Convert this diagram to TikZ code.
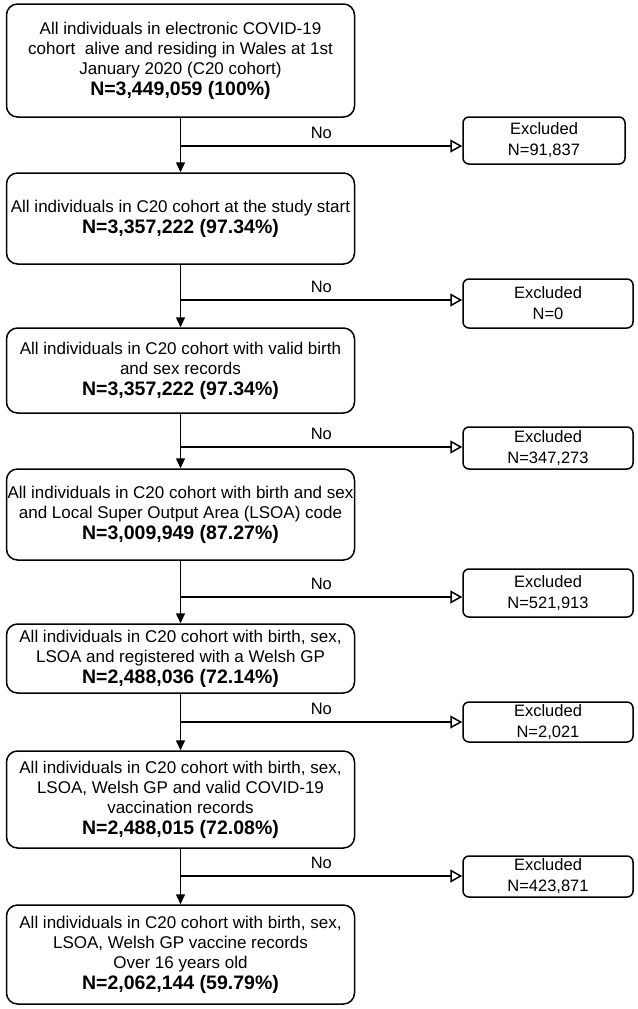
\documentclass[tikz,border=0pt]{standalone}
\usepackage{fontspec}
\setmainfont{Liberation Sans}
\usetikzlibrary{arrows.meta}
\newcommand{\bigN}[1]{{\fontsize{19.5}{23}\selectfont\bfseries #1}}
\begin{document}
\begin{tikzpicture}[x=1pt,y=-1pt,
 mainbox/.style={draw, line width=1.5pt, rounded corners=11pt, minimum width=348pt, align=center, inner sep=0pt, font=\fontsize{17}{20}\selectfont},
 exbox/.style={draw, line width=1.5pt, rounded corners=6pt, align=center, inner sep=0pt, font=\fontsize{16.5}{21}\selectfont},
 flow/.style={line width=1.5pt, -{Triangle[length=10pt,width=9pt]}},
 excl/.style={line width=1.5pt, -{Triangle[open,length=12pt,width=13pt,line width=1.5pt]}},
 nolab/.style={font=\fontsize{16.5}{20}\selectfont, yshift=13pt}
]
\useasboundingbox (0,0) rectangle (637,1009);
% main boxes
\node[mainbox, minimum height=113pt] (b1) at (180.5,60.5) {All individuals in electronic COVID-19\\cohort\ \ alive and residing in Wales at 1st\\January 2020 (C20 cohort)\\[1pt]\bigN{N=3,449,059 (100\%)}};
\node[mainbox, minimum height=91pt] (b2) at (180.5,218.5) {All individuals in C20 cohort at the study start\\[1pt]\bigN{N=3,357,222 (97.34\%)}};
\node[mainbox, minimum height=85pt] (b3) at (180.5,370.5) {All individuals in C20 cohort with valid birth\\and sex records\\[1pt]\bigN{N=3,357,222 (97.34\%)}};
\node[mainbox, minimum height=91pt] (b4) at (180.5,514.5) {All individuals in C20 cohort with birth and sex\\and Local Super Output Area (LSOA) code\\[1pt]\bigN{N=3,009,949 (87.27\%)}};
\node[mainbox, minimum height=69pt] (b5) at (180.5,658.5) {All individuals in C20 cohort with birth, sex,\\LSOA and registered with a Welsh GP\\[1pt]\bigN{N=2,488,036 (72.14\%)}};
\node[mainbox, minimum height=97pt] (b6) at (180.5,799.5) {All individuals in C20 cohort with birth, sex,\\LSOA, Welsh GP and valid COVID-19\\vaccination records\\[1pt]\bigN{N=2,488,015 (72.08\%)}};
\node[mainbox, minimum height=99pt] (b7) at (180.5,954.5) {All individuals in C20 cohort with birth, sex,\\LSOA, Welsh GP vaccine records\\Over 16 years old\\[1pt]\bigN{N=2,062,144 (59.79\%)}};
% excluded boxes
\node[exbox, minimum width=162pt, minimum height=47pt] (e1) at (544,140.5) {Excluded\\N=91,837};
\node[exbox, minimum width=170pt, minimum height=49pt] (e2) at (548,303.5) {Excluded\\N=0};
\node[exbox, minimum width=170pt, minimum height=42pt] (e3) at (548,448) {Excluded\\N=347,273};
\node[exbox, minimum width=170pt, minimum height=48pt] (e4) at (548,593) {Excluded\\N=521,913};
\node[exbox, minimum width=170pt, minimum height=40pt] (e5) at (548,722) {Excluded\\N=2,021};
\node[exbox, minimum width=170pt, minimum height=41pt] (e6) at (548,876.5) {Excluded\\N=423,871};
% junctions
\coordinate (j1) at (180.5,146);
\coordinate (j2) at (180.5,300);
\coordinate (j3) at (180.5,447);
\coordinate (j4) at (180.5,597);
\coordinate (j5) at (180.5,722);
\coordinate (j6) at (180.5,876);
% trunk
\draw[flow] (b1) -- (b2);
\draw[flow] (b2) -- (b3);
\draw[flow] (b3) -- (b4);
\draw[flow] (b4) -- (b5);
\draw[flow] (b5) -- (b6);
\draw[flow] (b6) -- (b7);
% branches
\draw[excl] (j1) -- node[nolab, midway] {No} (e1.west |- j1);
\draw[excl] (j2) -- node[nolab, midway] {No} (e2.west |- j2);
\draw[excl] (j3) -- node[nolab, midway] {No} (e3.west |- j3);
\draw[excl] (j4) -- node[nolab, midway] {No} (e4.west |- j4);
\draw[excl] (j5) -- node[nolab, midway] {No} (e5.west |- j5);
\draw[excl] (j6) -- node[nolab, midway] {No} (e6.west |- j6);
\end{tikzpicture}
\end{document}
